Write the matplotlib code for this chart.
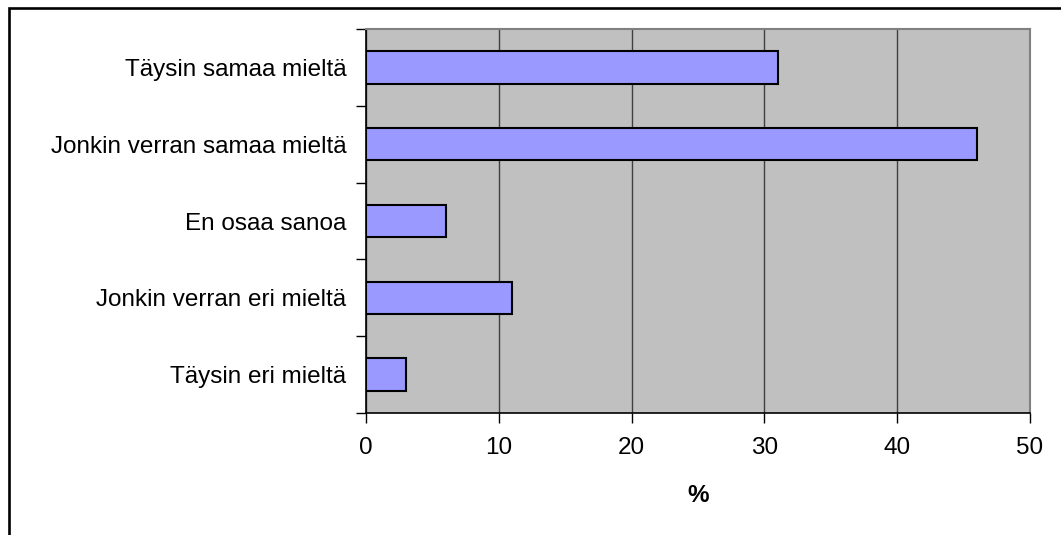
import matplotlib
matplotlib.use("Agg")
import matplotlib.pyplot as plt
from matplotlib.patches import Rectangle

categories = ["Täysin samaa mieltä", "Jonkin verran samaa mieltä", "En osaa sanoa",
              "Jonkin verran eri mieltä", "Täysin eri mieltä"]
values = [31, 46, 6, 11, 3]
x_ticks = [0, 10, 20, 30, 40, 50]
x_label = "%"

plt.rcParams["font.family"] = ["Liberation Sans", "DejaVu Sans"]

W, H = 1061, 535
fig = plt.figure(figsize=(W / 100, H / 100), dpi=100)
fig.patch.set_facecolor("white")

ax = fig.add_axes([366 / W, (H - 413) / H, (1030 - 366) / W, (413 - 29) / H])
ax.set_facecolor("#C0C0C0")

pos = list(range(len(categories)))
ax.barh(pos, values, height=0.42, color="#9999FF", edgecolor="black",
        linewidth=1.5, zorder=3)

ax.set_xlim(0, 50)
ax.set_ylim(len(categories) - 0.5, -0.5)

ax.set_xticks(x_ticks)
ax.set_xticklabels([str(t) for t in x_ticks], fontsize=17.5)
ax.tick_params(axis="x", direction="out", length=7, width=1, color="black", pad=10.5)

# category boundary ticks, labels centred on bars
ax.set_yticks([p - 0.5 for p in pos] + [len(categories) - 0.5])
ax.set_yticklabels([])
ax.set_yticks(pos, minor=True)
ax.set_yticklabels(categories, minor=True, fontsize=17.5)
ax.tick_params(axis="y", which="major", direction="out", length=7, width=1, color="black")
ax.tick_params(axis="y", which="minor", length=0, pad=14)

ax.xaxis.grid(True, color="#404040", linewidth=1.0, zorder=1)
ax.set_axisbelow(True)

for side in ("top", "right"):
    ax.spines[side].set_color("#808080")
    ax.spines[side].set_linewidth(1.5)
for side in ("left", "bottom"):
    ax.spines[side].set_color("black")
    ax.spines[side].set_linewidth(1.2)

ax.set_xlabel(x_label, fontsize=17.5, fontweight="bold", labelpad=17.5)

# outer chart border
fig.add_artist(Rectangle((8.5 / W, -0.1), 1.2, (H - 8.5) / H + 0.1,
                         transform=fig.transFigure, fill=False,
                         edgecolor="black", linewidth=1.9))

fig.savefig("out.png", dpi=100)
